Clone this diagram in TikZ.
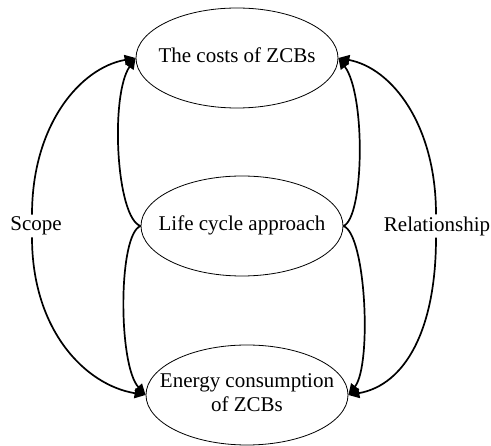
\documentclass[tikz,border=0pt]{standalone}
\usepackage{fontspec}
\setmainfont{Liberation Serif}
\usetikzlibrary{arrows.meta,shapes.geometric}
\newcommand{\zwtext}[1]{\makebox[0pt][c]{\begin{tabular}{@{}c@{}}#1\end{tabular}}}
\begin{document}
\begin{tikzpicture}[x=1pt,y=1pt,
  ell/.style={draw,ellipse,line width=0.8pt,minimum width=202pt,minimum height=100pt,inner sep=0pt,font=\fontsize{21}{25}\selectfont},
  lbl/.style={inner sep=2pt,font=\fontsize{21}{24}\selectfont},
  conn/.style={line width=1.7pt,-{Triangle[length=11pt,width=10pt]}}]
\useasboundingbox (0,0) rectangle (491,-446);
\renewcommand{\arraystretch}{0.95}
\node[ell] (top) at (237,-58) {\zwtext{The costs of ZCBs}};
\node[ell] (mid) at (242,-226) {\zwtext{Life cycle approach}};
\node[ell] (bot) at (247,-395) {\zwtext{Energy consumption\\of ZCBs}};
\node[lbl] (scope) at (36,-226) {Scope};
\node[lbl] (rel) at (437,-226) {Relationship};
% inner left
\draw[conn] (mid.west) .. controls (116,-218) and (110,-95) .. (top.west);
\draw[conn] (mid.west) .. controls (118,-234) and (118,-365) .. (bot.west);
% outer left
\draw[conn] ([xshift=-4pt]scope.north) .. controls (32,-125) and (80,-68) .. (top.west);
\draw[conn] ([xshift=-4pt]scope.south) .. controls (32,-330) and (85,-385) .. (bot.west);
% inner right
\draw[conn] (mid.east) .. controls (364,-218) and (366,-95) .. (top.east);
\draw[conn] (mid.east) .. controls (366,-234) and (372,-365) .. (bot.east);
% outer right
\draw[conn] ([xshift=-1pt]rel.north) .. controls (436,-125) and (392,-68) .. (top.east);
\draw[conn] ([xshift=-1pt]rel.south) .. controls (436,-330) and (405,-385) .. (bot.east);
\end{tikzpicture}
\end{document}
